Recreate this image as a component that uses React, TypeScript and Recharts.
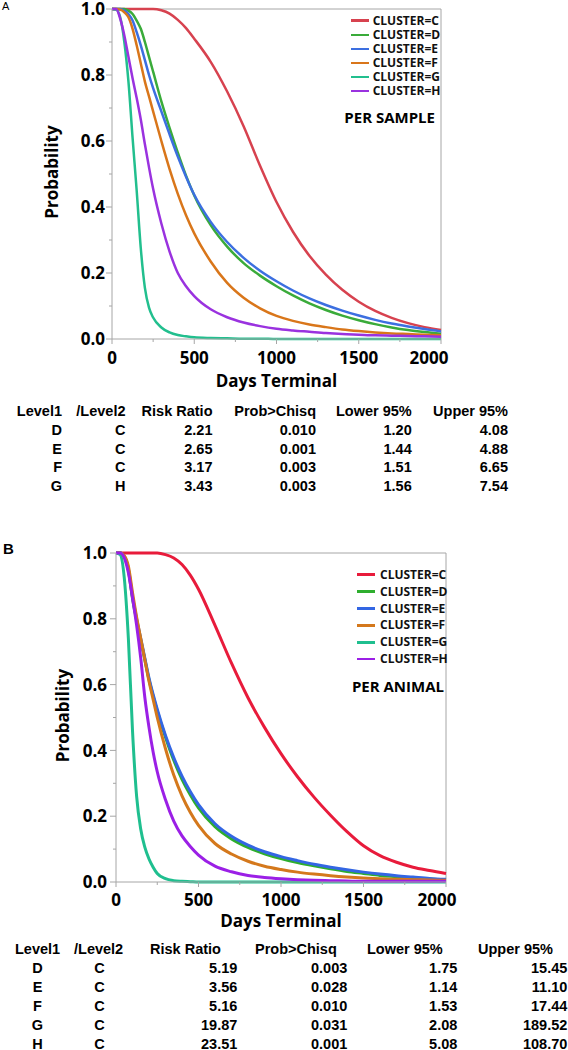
import React from 'react';
import { LineChart, Line, XAxis, YAxis, ReferenceLine } from 'recharts';

const clusterNames = ['CLUSTER=C', 'CLUSTER=D', 'CLUSTER=E', 'CLUSTER=F', 'CLUSTER=G', 'CLUSTER=H'];
const days = [0, 25, 50, 75, 100, 125, 150, 175, 200, 225, 250, 300, 350, 400, 450, 500, 600, 700, 800, 900, 1000, 1100, 1200, 1300, 1400, 1500, 1600, 1700, 1800, 1900, 2000];

// panel A, per sample
const sampleC = [1, 1, 1, 1, 1, 1, 1, 1, 1, 1, 1, 0.996, 0.986, 0.967, 0.942, 0.91, 0.84, 0.75, 0.645, 0.525, 0.415, 0.325, 0.252, 0.195, 0.149, 0.113, 0.085, 0.064, 0.048, 0.036, 0.027];
const sampleD = [1, 1, 1, 1, 0.995, 0.985, 0.965, 0.94, 0.9, 0.855, 0.81, 0.72, 0.64, 0.565, 0.495, 0.435, 0.345, 0.28, 0.23, 0.192, 0.16, 0.132, 0.108, 0.088, 0.071, 0.057, 0.045, 0.035, 0.027, 0.021, 0.016];
const sampleE = [1, 1, 1, 0.995, 0.985, 0.965, 0.93, 0.89, 0.845, 0.8, 0.76, 0.69, 0.62, 0.553, 0.492, 0.437, 0.355, 0.294, 0.246, 0.207, 0.175, 0.147, 0.123, 0.103, 0.086, 0.071, 0.058, 0.047, 0.038, 0.03, 0.023];
const sampleF = [1, 1, 0.998, 0.99, 0.975, 0.94, 0.89, 0.835, 0.78, 0.735, 0.69, 0.6, 0.515, 0.44, 0.375, 0.32, 0.235, 0.17, 0.125, 0.093, 0.07, 0.055, 0.044, 0.036, 0.029, 0.024, 0.02, 0.017, 0.015, 0.013, 0.011];
const sampleG = [1, 0.998, 0.975, 0.9, 0.78, 0.61, 0.45, 0.275, 0.155, 0.095, 0.065, 0.035, 0.02, 0.012, 0.008, 0.005, 0.003, 0.002, 0.001, 0.001, 0, 0, 0, 0, 0, 0, 0, 0, 0, 0, 0];
const sampleH = [1, 1, 0.97, 0.92, 0.855, 0.79, 0.73, 0.665, 0.59, 0.52, 0.455, 0.35, 0.265, 0.2, 0.16, 0.13, 0.09, 0.066, 0.05, 0.039, 0.031, 0.026, 0.022, 0.018, 0.015, 0.013, 0.011, 0.01, 0.009, 0.008, 0.007];

// panel B, per animal
const animalC = [1, 1, 1, 1, 1, 1, 1, 1, 1, 1, 1, 0.995, 0.985, 0.965, 0.933, 0.89, 0.78, 0.665, 0.56, 0.47, 0.39, 0.32, 0.258, 0.203, 0.153, 0.11, 0.08, 0.06, 0.045, 0.035, 0.026];
const animalD = [1, 1, 0.99, 0.948, 0.862, 0.795, 0.735, 0.675, 0.615, 0.565, 0.52, 0.44, 0.37, 0.312, 0.265, 0.225, 0.168, 0.131, 0.105, 0.086, 0.071, 0.059, 0.049, 0.04, 0.032, 0.026, 0.02, 0.016, 0.012, 0.009, 0.006];
const animalE = [1, 1, 0.99, 0.952, 0.868, 0.8, 0.74, 0.68, 0.62, 0.57, 0.525, 0.445, 0.378, 0.322, 0.275, 0.235, 0.177, 0.139, 0.112, 0.092, 0.077, 0.065, 0.054, 0.045, 0.037, 0.03, 0.024, 0.019, 0.015, 0.011, 0.008];
const animalF = [1, 1, 0.992, 0.96, 0.88, 0.805, 0.74, 0.675, 0.61, 0.555, 0.5, 0.405, 0.325, 0.262, 0.212, 0.172, 0.117, 0.085, 0.063, 0.048, 0.038, 0.03, 0.024, 0.019, 0.015, 0.012, 0.01, 0.008, 0.007, 0.006, 0.005];
const animalG = [1, 0.995, 0.925, 0.74, 0.46, 0.26, 0.16, 0.105, 0.07, 0.045, 0.026, 0.01, 0.004, 0.002, 0.001, 0, 0, 0, 0, 0, 0, 0, 0, 0, 0, 0, 0, 0, 0, 0, 0];
const animalH = [1, 1, 0.985, 0.94, 0.865, 0.78, 0.68, 0.56, 0.47, 0.395, 0.335, 0.25, 0.185, 0.14, 0.108, 0.082, 0.048, 0.031, 0.02, 0.014, 0.01, 0.007, 0.005, 0.004, 0.003, 0.002, 0.002, 0.002, 0.002, 0.002, 0.002];

const dayTicks = [0, 250, 500, 750, 1000, 1250, 1500, 1750, 2000];
const probTicks = [0, 0.1, 0.2, 0.3, 0.4, 0.5, 0.6, 0.7, 0.8, 0.9, 1];

const tableHeader = ['Level1', '/Level2', 'Risk Ratio', 'Prob>Chisq', 'Lower 95%', 'Upper 95%'];
const sampleRows = [
  ['D', 'C', '2.21', '0.010', '1.20', '4.08'],
  ['E', 'C', '2.65', '0.001', '1.44', '4.88'],
  ['F', 'C', '3.17', '0.003', '1.51', '6.65'],
  ['G', 'H', '3.43', '0.003', '1.56', '7.54'],
];
const animalRows = [
  ['D', 'C', '5.19', '0.003', '1.75', '15.45'],
  ['E', 'C', '3.56', '0.028', '1.14', '11.10'],
  ['F', 'C', '5.16', '0.010', '1.53', '17.44'],
  ['G', 'C', '19.87', '0.031', '2.08', '189.52'],
  ['H', 'C', '23.51', '0.001', '5.08', '108.70'],
];

const FONT = '"Open Sans", "DejaVu Sans", sans-serif';
const TABLE_FONT = '"Liberation Sans", Arial, sans-serif';
const AXIS = '#a6a6a6';
const sampleColors = ['#d7424f', '#3aab3a', '#3c6fe0', '#d9761a', '#22bf8e', '#9a32df'];
const animalColors = ['#e81b3b', '#2eae2e', '#3366e3', '#d4781c', '#1fbf8f', '#9b1fe6'];

const buildRows = (series: number[][]) =>
  days.map((d, i) => {
    const row: Record<string, number> = { day: d };
    series.forEach((s, j) => {
      row['s' + j] = s[i];
    });
    return row;
  });

const sampleData = buildRows([sampleC, sampleD, sampleE, sampleF, sampleG, sampleH]);
const animalData = buildRows([animalC, animalD, animalE, animalF, animalG, animalH]);

const DayTick = ({ x, y, payload, shift, labelDy }: any) => {
  const v = payload.value;
  const major = v % 500 === 0;
  return (
    <g>
      <line x1={x} x2={x} y1={y} y2={y + (major ? 5 : 3)} stroke={AXIS} />
      {major && (
        <text x={x + (v === 2000 ? shift : 0)} y={y + labelDy} dy="0.36em" textAnchor="middle"
          fontFamily={FONT} fontWeight={700} fontSize={17} fill="#000">
          {v}
        </text>
      )}
    </g>
  );
};

const ProbTick = ({ x, y, payload, gap }: any) => {
  const v = payload.value;
  const major = Math.round(v * 10) % 2 === 0;
  return (
    <g>
      <line x1={x - (major ? 6 : 3)} x2={x} y1={y} y2={y} stroke={AXIS} />
      {major && (
        <text x={x - gap} y={y} dy="0.36em" textAnchor="end"
          fontFamily={FONT} fontWeight={700} fontSize={17} fill="#000">
          {v.toFixed(1)}
        </text>
      )}
    </g>
  );
};

function SurvivalChart(props: any) {
  const { top, data, colors, strokeWidth, axisWidth, marginTop, marginRight, xAxisHeight, yGap, xLabelDy, xTitleDy, yTitleX, shift } = props;
  return (
    <div style={{ position: 'absolute', left: 0, top }}>
      <LineChart width={568} height={400} data={data} margin={{ top: marginTop, right: marginRight, bottom: 0, left: 0 }}>
        <XAxis
          dataKey="day"
          type="number"
          domain={[0, 2000]}
          ticks={dayTicks}
          interval={0}
          tickSize={0}
          tickMargin={0}
          height={xAxisHeight}
          stroke={AXIS}
          tick={(p: any) => <DayTick {...p} shift={shift} labelDy={xLabelDy} />}
          label={{
            content: ({ viewBox }: any) => (
              <text x={viewBox.x + viewBox.width / 2} y={viewBox.y + xTitleDy} dy="0.36em" textAnchor="middle"
                fontFamily={FONT} fontWeight={700} fontSize={17} fill="#000">
                Days Terminal
              </text>
            ),
          }}
        />
        <YAxis
          type="number"
          domain={[0, 1]}
          ticks={probTicks}
          interval={0}
          tickSize={0}
          tickMargin={0}
          width={axisWidth}
          stroke={AXIS}
          tick={(p: any) => <ProbTick {...p} gap={yGap} />}
          label={{
            content: ({ viewBox }: any) => {
              const cy = viewBox.y + viewBox.height / 2 - 2;
              return (
                <text x={yTitleX} y={cy} dy="0.36em" textAnchor="middle" transform={`rotate(-90, ${yTitleX}, ${cy})`}
                  fontFamily={FONT} fontWeight={700} fontSize={17} fill="#000">
                  Probability
                </text>
              );
            },
          }}
        />
        <ReferenceLine y={1} stroke={AXIS} />
        <ReferenceLine x={2000} stroke={AXIS} />
        {colors.map((c: string, i: number) => (
          <Line key={i} type="monotone" dataKey={'s' + i} stroke={c} strokeWidth={strokeWidth}
            dot={false} activeDot={false} isAnimationActive={false} />
        ))}
      </LineChart>
    </div>
  );
}

function ClusterLegend(props: any) {
  const { top, step, lineLeft, textLeft, colors, strokeWidth, title, titleRight, titleY } = props;
  return (
    <>
      {clusterNames.map((name, i) => (
        <React.Fragment key={name}>
          <div style={{ position: 'absolute', left: lineLeft, top: top + i * step - strokeWidth / 2, width: 18, height: strokeWidth, background: colors[i] }} />
          <div style={{ position: 'absolute', left: textLeft, top: top + i * step - 6, lineHeight: '12px', fontFamily: FONT, fontWeight: 700, fontSize: 12, color: '#111', whiteSpace: 'nowrap' }}>
            {name}
          </div>
        </React.Fragment>
      ))}
      <div style={{ position: 'absolute', right: 568 - titleRight, top: titleY - 10, lineHeight: '20px', fontFamily: FONT, fontWeight: 700, fontSize: 15, color: '#000', whiteSpace: 'nowrap' }}>
        {title}
      </div>
    </>
  );
}

function StatsTable(props: any) {
  const { top, step, rows, headerCols, cellCols } = props;
  const cell = (text: string, col: any, y: number, key: string) => {
    const base: any = { position: 'absolute', top: y - 7, lineHeight: '14px', fontFamily: TABLE_FONT, fontWeight: 700, fontSize: 14.5, color: '#000', whiteSpace: 'nowrap' };
    if (col.align === 'right') return <div key={key} style={{ ...base, right: 568 - col.x, textAlign: 'right' }}>{text}</div>;
    if (col.align === 'center') return <div key={key} style={{ ...base, left: col.x - 30, width: 60, textAlign: 'center' }}>{text}</div>;
    return <div key={key} style={{ ...base, left: col.x }}>{text}</div>;
  };
  return (
    <>
      {tableHeader.map((h, j) => cell(h, headerCols[j], top, 'h' + j))}
      {rows.map((r: string[], i: number) => r.map((v, j) => cell(v, cellCols[j], top + (i + 1) * step, i + '-' + j)))}
    </>
  );
}

const sampleCols = [62, 125.5, 212.5, 316, 411.7, 508].map((x) => ({ x, align: 'right' }));
const animalHeaderCols = [15, 74, 150, 255, 367, 478].map((x) => ({ x, align: 'left' }));
const animalCellCols = [
  { x: 37.5, align: 'center' },
  { x: 99.5, align: 'center' },
  { x: 237.3, align: 'right' },
  { x: 347.3, align: 'right' },
  { x: 457.3, align: 'right' },
  { x: 567.3, align: 'right' },
];

export default function App() {
  return (
    <div style={{ position: 'absolute', left: 0, top: 0, width: 568, height: 1050, background: '#fff', overflow: 'hidden' }}>
      <div style={{ position: 'absolute', left: 2, top: 1, lineHeight: '11px', fontFamily: TABLE_FONT, fontSize: 11, color: '#000' }}>A</div>
      <SurvivalChart top={0} data={sampleData} colors={sampleColors} strokeWidth={2.5} axisWidth={112} marginTop={9}
        marginRight={127} xAxisHeight={61} yGap={7} xLabelDy={19} xTitleDy={42} yTitleX={52} shift={-12} />
      <ClusterLegend top={20.7} step={14.05} lineLeft={351} textLeft={372.7} colors={sampleColors} strokeWidth={2.5}
        title="PER SAMPLE" titleRight={435} titleY={117.3} />
      <StatsTable top={411} step={18.8} rows={sampleRows} headerCols={sampleCols} cellCols={sampleCols} />

      <div style={{ position: 'absolute', left: 3, top: 540.6, lineHeight: '15px', fontFamily: TABLE_FONT, fontWeight: 700, fontSize: 15, color: '#000' }}>B</div>
      <SurvivalChart top={540} data={animalData} colors={animalColors} strokeWidth={3} axisWidth={116} marginTop={13}
        marginRight={122} xAxisHeight={58} yGap={9} xLabelDy={18} xTitleDy={39} yTitleX={63} shift={-9} />
      <ClusterLegend top={574.7} step={16.9} lineLeft={356.7} textLeft={380} colors={animalColors} strokeWidth={2.5}
        title="PER ANIMAL" titleRight={444} titleY={685.7} />
      <StatsTable top={949} step={19} rows={animalRows} headerCols={animalHeaderCols} cellCols={animalCellCols} />
    </div>
  );
}
